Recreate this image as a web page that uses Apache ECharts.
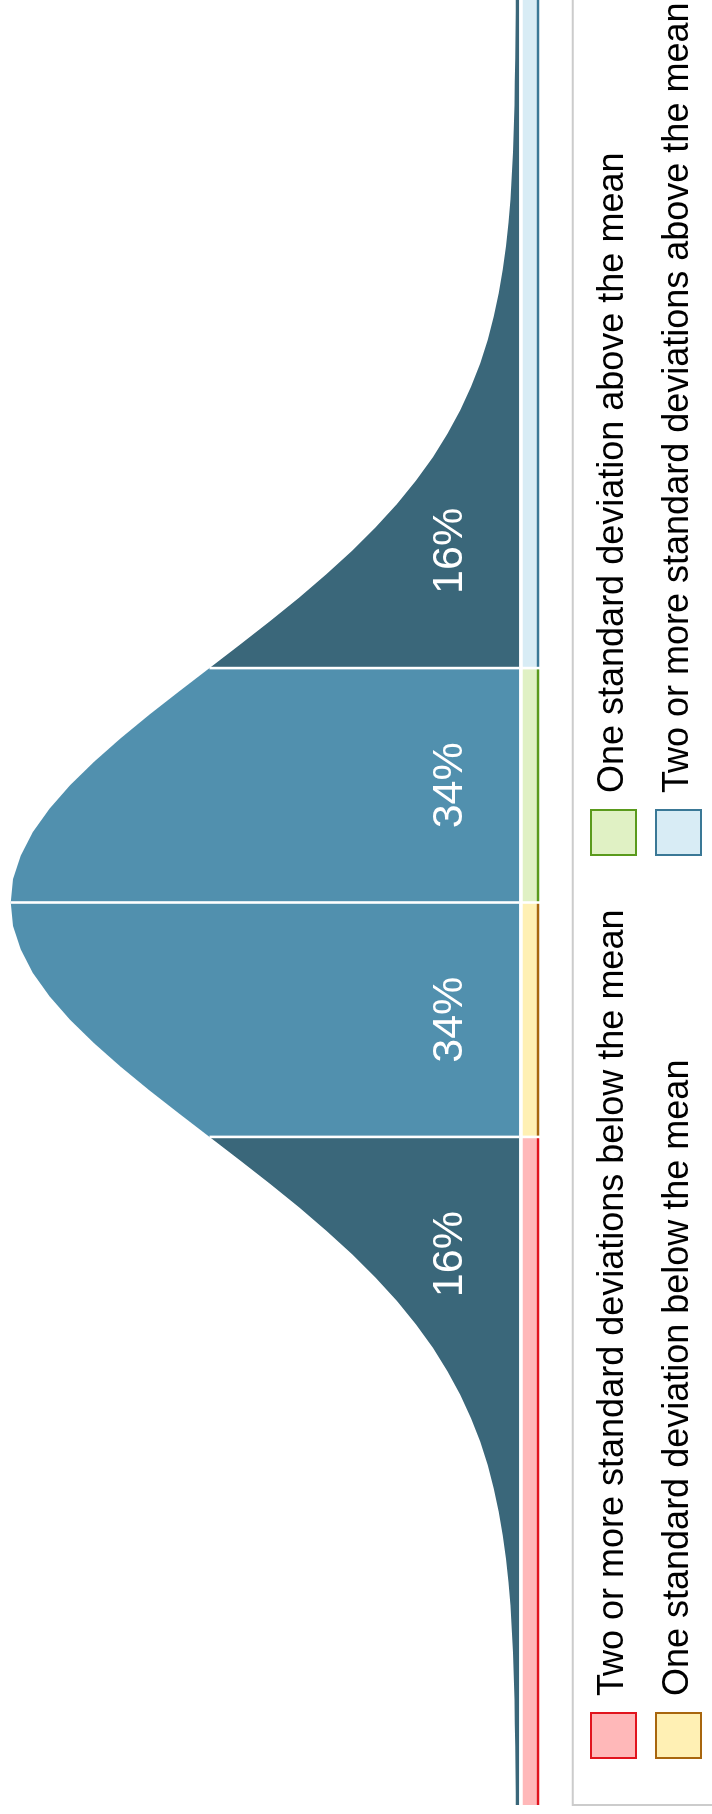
<!DOCTYPE html>
<html>
<head>
<meta charset="utf-8">
<script src="https://cdn.jsdelivr.net/npm/echarts@6/dist/echarts.min.js"></script>
<style>
  html, body { margin: 0; padding: 0; background: #ffffff; overflow: hidden; }
  body { width: 712px; height: 1814px; position: relative; }
  /* The chart is laid out landscape and turned a quarter turn so it reads bottom-to-top */
  #chart {
    position: absolute; left: 0; top: 0;
    width: 1814px; height: 712px;
    transform-origin: 0 0;
    transform: translate(0, 1814px) rotate(-90deg);
  }
</style>
</head>
<body>
<div id="chart"></div>
<script>
// Standard scores (in standard deviations) along the bell curve
const zValues = [
  -3.85, -3.8, -3.7, -3.6, -3.5, -3.4, -3.3, -3.2, -3.1, -3.0,
  -2.9, -2.8, -2.7, -2.6, -2.5, -2.4, -2.3, -2.2, -2.1, -2.0,
  -1.9, -1.8, -1.7, -1.6, -1.5, -1.4, -1.3, -1.2, -1.1, -1.0,
  -0.9, -0.8, -0.7, -0.6, -0.5, -0.4, -0.3, -0.2, -0.1, 0,
  0.1, 0.2, 0.3, 0.4, 0.5, 0.6, 0.7, 0.8, 0.9, 1.0,
  1.1, 1.2, 1.3, 1.4, 1.5, 1.6, 1.7, 1.8, 1.9, 2.0,
  2.1, 2.2, 2.3, 2.4, 2.5, 2.6, 2.7, 2.8, 2.9, 3.0,
  3.1, 3.2, 3.3, 3.4, 3.5, 3.6, 3.7, 3.8, 3.85
];

// Curve height at each score
const density = [
  0.0002, 0.0003, 0.0004, 0.0006, 0.0009, 0.0012, 0.0017, 0.0024, 0.0033, 0.0044,
  0.0060, 0.0079, 0.0104, 0.0136, 0.0175, 0.0224, 0.0283, 0.0355, 0.0440, 0.0540,
  0.0656, 0.0790, 0.0940, 0.1109, 0.1295, 0.1497, 0.1714, 0.1942, 0.2179, 0.2420,
  0.2661, 0.2897, 0.3123, 0.3332, 0.3521, 0.3683, 0.3814, 0.3910, 0.3970, 0.3989,
  0.3970, 0.3910, 0.3814, 0.3683, 0.3521, 0.3332, 0.3123, 0.2897, 0.2661, 0.2420,
  0.2179, 0.1942, 0.1714, 0.1497, 0.1295, 0.1109, 0.0940, 0.0790, 0.0656, 0.0540,
  0.0440, 0.0355, 0.0283, 0.0224, 0.0175, 0.0136, 0.0104, 0.0079, 0.0060, 0.0044,
  0.0033, 0.0024, 0.0017, 0.0012, 0.0009, 0.0006, 0.0004, 0.0003, 0.0002
];

// Band edges (standard deviations)
const boundaries = [-3.85, -1, 0, 1, 3.85];

const categories = [
  'Two or more standard deviations below the mean',
  'One standard deviation below the mean',
  'One standard deviation above the mean',
  'Two or more standard deviations above the mean'
];

// Share of the population in each band (percent) and where its label sits
const shares = [16, 34, 34, 16];
const labelZ = [-1.5, -0.5, 0.5, 1.5];

// Styling
const FONT = '"Liberation Sans", Arial, Helvetica, sans-serif';
const curveColors = ['#3a677a', '#5190ae', '#5190ae', '#3a677a'];
const stripFill = ['#ffb8b9', '#fff0b4', '#e0f1c4', '#d8ecf5'];
const stripEdge = ['#e1141e', '#a8660e', '#5a9a1c', '#3a7896'];
const Z_MIN = -3.85, Z_MAX = 3.85;
const Y_MIN = -0.0026, Y_MAX = 0.4;
const LABEL_LEVEL = 0.052;
const GAP = 2.6;

const chart = echarts.init(document.getElementById('chart'), null, { renderer: 'canvas' });

const points = zValues.map((z, i) => [z, density[i]]);
const densityAt = z => density[zValues.indexOf(z)];

const series = [];

// Filled bell-curve sections
for (let k = 0; k < 4; k++) {
  series.push({
    type: 'line',
    xAxisIndex: 0, yAxisIndex: 0,
    data: points.filter(p => p[0] >= boundaries[k] && p[0] <= boundaries[k + 1]),
    symbol: 'none',
    smooth: false,
    lineStyle: { width: 0, opacity: 0 },
    areaStyle: { color: curveColors[k], opacity: 1, origin: 'start' },
    silent: true,
    z: 2
  });
}

// White dividers between sections
for (let k = 1; k < 4; k++) {
  const b = boundaries[k];
  series.push({
    type: 'line',
    xAxisIndex: 0, yAxisIndex: 0,
    data: [[b, Y_MIN], [b, densityAt(b)]],
    symbol: 'none',
    lineStyle: { color: '#ffffff', width: GAP },
    silent: true,
    z: 3
  });
}

// Coloured strips under the curve, one per band
for (let k = 0; k < 4; k++) {
  series.push({
    type: 'custom',
    name: categories[k],
    xAxisIndex: 1, yAxisIndex: 1,
    data: [[boundaries[k], boundaries[k + 1]]],
    encode: { x: [0, 1] },
    silent: true,
    z: 2,
    renderItem: (params, api) => {
      const p0 = api.coord([api.value(0), 1]);
      const p1 = api.coord([api.value(1), 0]);
      const li = k === 0 ? 0 : GAP / 2;
      const ri = k === 3 ? 0 : GAP / 2;
      const x = p0[0] + li;
      const w = p1[0] - p0[0] - li - ri;
      const edgeW = 2.6;
      return {
        type: 'group',
        children: [
          { type: 'rect', shape: { x: x, y: p0[1], width: w, height: p1[1] - p0[1] - edgeW },
            style: { fill: stripFill[k] } },
          { type: 'rect', shape: { x: x, y: p1[1] - edgeW, width: w, height: edgeW },
            style: { fill: stripEdge[k] } }
        ]
      };
    }
  });
}

// Percentage labels
series.push({
  type: 'custom',
  xAxisIndex: 0, yAxisIndex: 0,
  data: labelZ.map((z, i) => [z, LABEL_LEVEL, shares[i]]),
  silent: true,
  z: 5,
  renderItem: (params, api) => {
    const p = api.coord([api.value(0), api.value(1)]);
    return {
      type: 'text',
      x: p[0], y: p[1],
      style: {
        text: api.value(2) + '%',
        fill: '#ffffff',
        font: '43px ' + FONT,
        align: 'center',
        verticalAlign: 'middle'
      }
    };
  }
});

const legendItem = k => ({
  name: categories[k],
  icon: 'rect',
  itemStyle: { color: stripFill[k], borderColor: stripEdge[k], borderWidth: 2 }
});

const legendCommon = {
  orient: 'vertical',
  top: 590,
  padding: 0,
  itemWidth: 45,
  itemHeight: 45,
  itemGap: 18,
  selectedMode: false,
  textStyle: { fontFamily: FONT, fontSize: 36, color: '#000000', lineHeight: 45, padding: [0, 0, 0, 12] }
};

chart.setOption({
  animation: false,
  backgroundColor: '#ffffff',
  grid: [
    { left: 9, top: 9.3, width: 1809.5, height: 510, containLabel: false },
    { left: 9, top: 522.7, width: 1809.5, height: 16.6, containLabel: false }
  ],
  xAxis: [
    { type: 'value', gridIndex: 0, min: Z_MIN, max: Z_MAX, show: false },
    { type: 'value', gridIndex: 1, min: Z_MIN, max: Z_MAX, show: false }
  ],
  yAxis: [
    { type: 'value', gridIndex: 0, min: Y_MIN, max: Y_MAX, show: false },
    { type: 'value', gridIndex: 1, min: 0, max: 1, show: false }
  ],
  legend: [
    Object.assign({ left: 55, data: [legendItem(0), legendItem(1)] }, legendCommon),
    Object.assign({ left: 958, data: [legendItem(2), legendItem(3)] }, legendCommon)
  ],
  graphic: [
    {
      type: 'rect',
      silent: true,
      shape: { x: 9, y: 572.7, width: 2000, height: 400 },
      style: { fill: 'none', stroke: '#cccccc', lineWidth: 2 }
    }
  ],
  series: series
});
</script>
</body>
</html>
